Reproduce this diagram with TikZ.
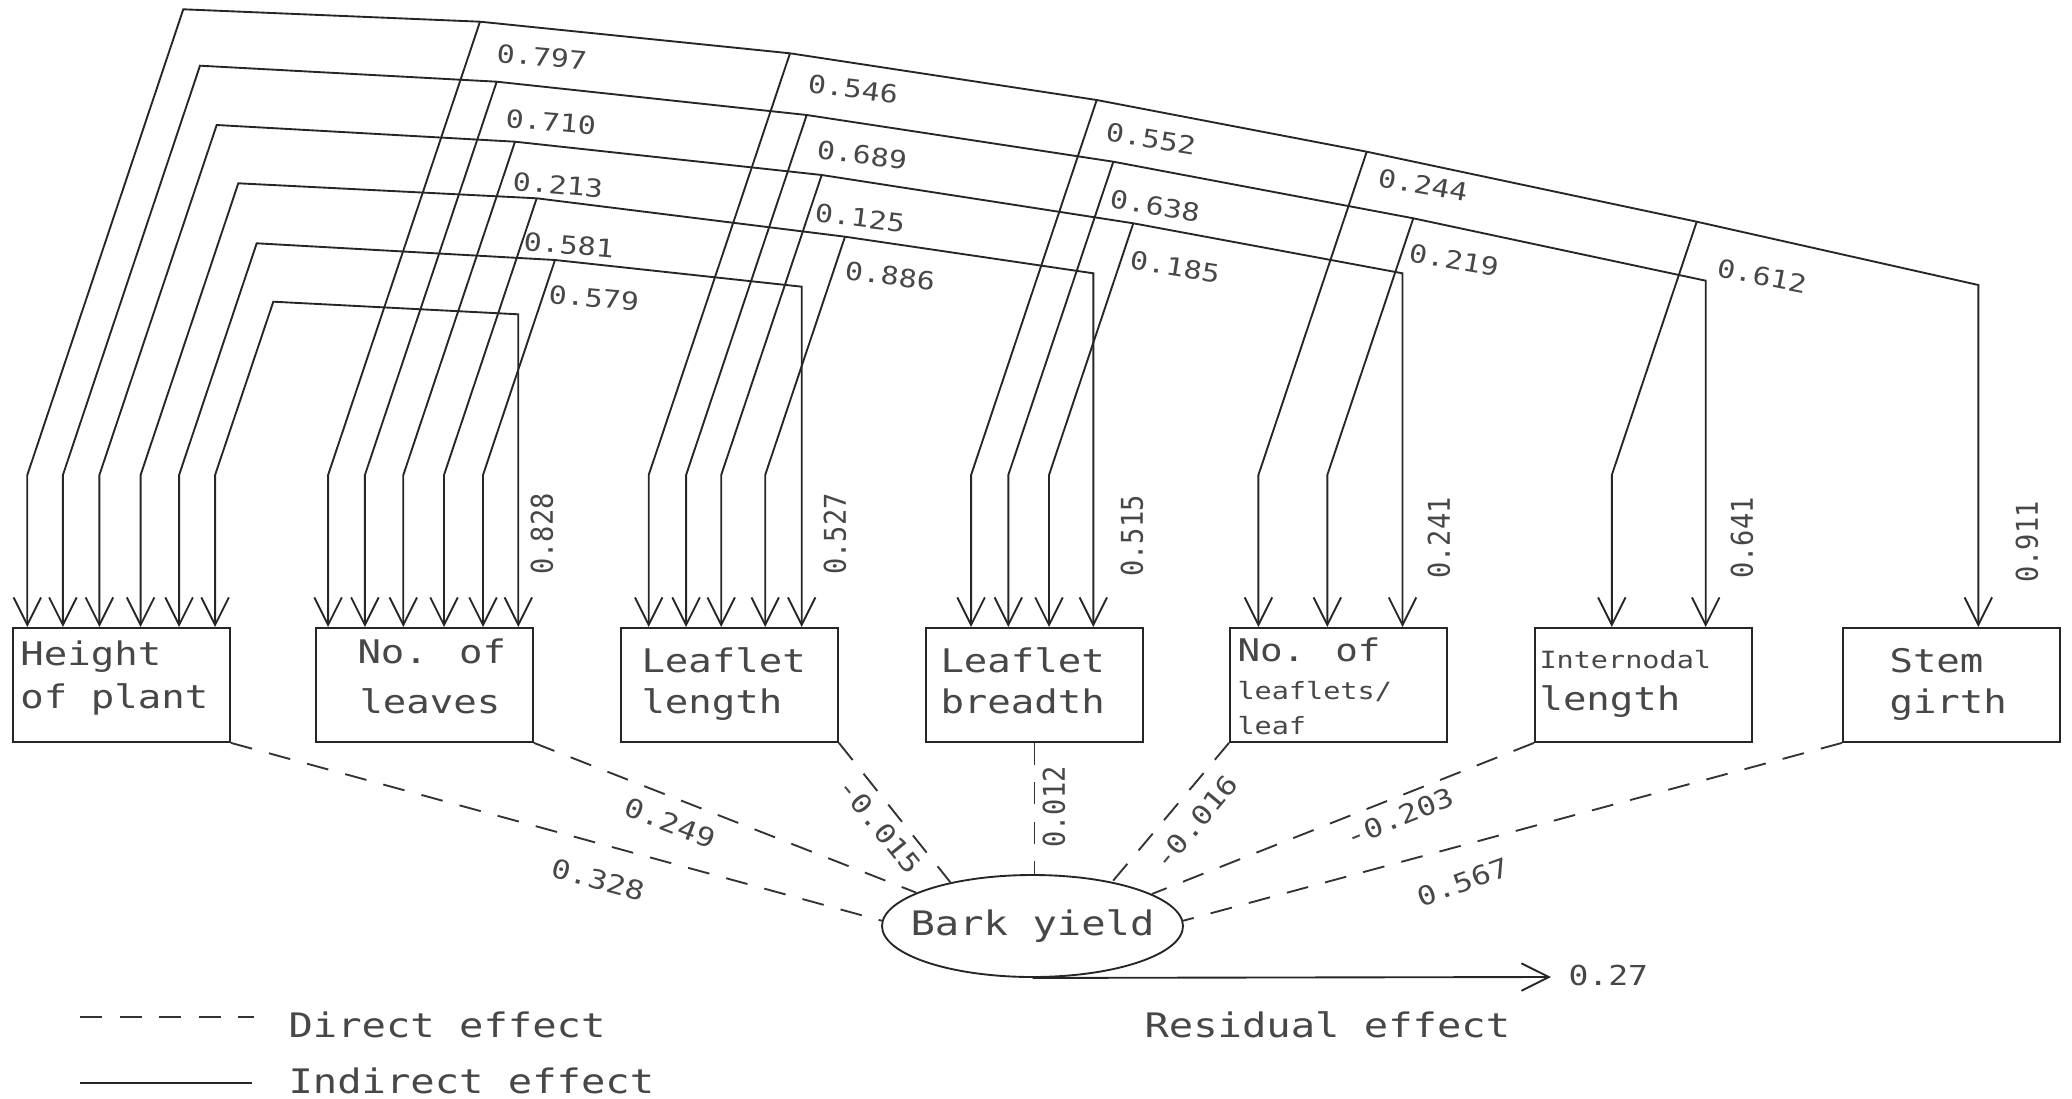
\documentclass[tikz,border=0pt]{standalone}
\usepackage{fontspec}
\newfontfamily\cad[FakeStretch=1.2]{DejaVu Sans Mono}
\newfontfamily\cadv[FakeStretch=0.9]{DejaVu Sans Mono}
\usetikzlibrary{arrows.meta,shapes.geometric,calc}
\tikzset{
 ln/.style={draw=black!85, line width=0.75pt},
 dl/.style={draw=black!80, line width=0.75pt, dash pattern=on 8.8pt off 7pt},
 tip/.style={-{Straight Barb[length=11pt,width=11pt]}},
 dtip/.style={{Straight Barb[length=11pt,width=11pt]}-{Straight Barb[length=11pt,width=11pt]}},
 box/.style={draw=black!85, line width=0.75pt, minimum width=86.8pt, minimum height=45.6pt, inner sep=0pt, anchor=north west},
 bt/.style={font=\cad\fontsize{13}{15}\selectfont, text=black!72, inner sep=0pt, anchor=base west},
 bts/.style={font=\cad\fontsize{9.5}{11}\selectfont, text=black!72, inner sep=0pt, anchor=base west},
 num/.style={font=\cad\fontsize{10}{12}\selectfont, text=black!72, inner sep=0pt},
 vnum/.style={font=\cadv\fontsize{12}{14}\selectfont, text=black!72, inner sep=0pt, rotate=90},
 dnum/.style={font=\cad\fontsize{10.5}{12}\selectfont, text=black!72, inner sep=0pt},
 big/.style={font=\cad\fontsize{13.5}{16}\selectfont, text=black!72, inner sep=0pt, anchor=base west},
}
\begin{document}
\begin{tikzpicture}[x=0.4pt,y=-0.4pt]
\useasboundingbox (0,0) rectangle (2072,1099);

% ---------- boxes ----------
\node[box] (b1) at (12,627) {};
\node[box] (b2) at (315,627) {};
\node[box] (b3) at (620,627) {};
\node[box] (b4) at (925,627) {};
\node[box] (b5) at (1229,627) {};
\node[box] (b6) at (1534,627) {};
\node[box] (b7) at (1842,627) {};

\node[bt] (t1a) at (20,665) {Height};
\node[bt] (t1b) at (20,708) {of plant};
\node[bt] (t2a) at (357,663) {No. of};
\node[bt] (t2b) at (359,713) {leaves};
\node[bt] (t3a) at (641,672) {Leaflet};
\node[bt] (t3b) at (641,713) {length};
\node[bt] (t4a) at (940,672) {Leaflet};
\node[bt] (t4b) at (940,713) {breadth};
\node[font=\cad\fontsize{12.5}{14}\selectfont, text=black!72, inner sep=0pt, anchor=base west] (t5a) at (1237,661) {No. of};
\node[bts] (t5b) at (1237,699) {leaflets/};
\node[bts] (t5c) at (1237,734) {leaf};
\node[bts] (t6a) at (1539,668) {Internodal};
\node[bt] (t6b) at (1539,710) {length};
\node[bt] (t7a) at (1889,672) {Stem};
\node[bt] (t7b) at (1889,713) {girth};

% ---------- Bark yield ----------
\node[ellipse, draw=black!85, line width=0.75pt, minimum width=120.4pt, minimum height=40.8pt, inner sep=0pt] (by) at (1032.5,926) {};
\node[font=\cad\fontsize{13.5}{16}\selectfont, text=black!72, inner sep=0pt] (byt) at (by.center) {Bark yield};

% ---------- arrow tips on box tops ----------
\coordinate (kk) at (0,475);
\coordinate (p17) at (27.3,0 |- b1.north);
\coordinate (p16) at (62.9,0 |- b1.north);
\coordinate (p15) at (99.4,0 |- b1.north);
\coordinate (p14) at (140.6,0 |- b1.north);
\coordinate (p13) at (179.1,0 |- b1.north);
\coordinate (p12) at (215.1,0 |- b1.north);
\coordinate (p27) at (328.1,0 |- b2.north);
\coordinate (p26) at (364.9,0 |- b2.north);
\coordinate (p25) at (403.3,0 |- b2.north);
\coordinate (p24) at (444,0 |- b2.north);
\coordinate (p23) at (483,0 |- b2.north);
\coordinate (p22) at (518.3,0 |- b2.north);
\coordinate (p37) at (648.7,0 |- b3.north);
\coordinate (p36) at (686.1,0 |- b3.north);
\coordinate (p35) at (721.2,0 |- b3.north);
\coordinate (p34) at (765.2,0 |- b3.north);
\coordinate (p33) at (801.7,0 |- b3.north);
\coordinate (p47) at (971.1,0 |- b4.north);
\coordinate (p46) at (1008.3,0 |- b4.north);
\coordinate (p45) at (1049,0 |- b4.north);
\coordinate (p44) at (1093.3,0 |- b4.north);
\coordinate (p57) at (1258.4,0 |- b5.north);
\coordinate (p56) at (1327.3,0 |- b5.north);
\coordinate (p55) at (1402.5,0 |- b5.north);
\coordinate (p67) at (1611.8,0 |- b6.north);
\coordinate (p66) at (1705.7,0 |- b6.north);
\coordinate (p77) at (1978.3,0 |- b7.north);

% ---------- bus points ----------
\coordinate (c7) at (183.3,9.3);
\coordinate (br72) at (480,21.7);
\coordinate (br73) at (790,53.3);
\coordinate (br74) at (1096.7,100);
\coordinate (br75) at (1366.7,151.7);
\coordinate (br76) at (1696.7,221.7);
\coordinate (e7) at (1978.3,285);

\coordinate (c6) at (200,65.7);
\coordinate (br62) at (496.7,81.7);
\coordinate (br63) at (806.7,115);
\coordinate (br64) at (1113.3,161.7);
\coordinate (br65) at (1413.3,218.3);
\coordinate (e6) at (1705.7,280.7);

\coordinate (c5) at (216.7,125);
\coordinate (br52) at (515,141.7);
\coordinate (br53) at (821.7,175);
\coordinate (br54) at (1133.3,223.3);
\coordinate (e5) at (1402.5,273.3);

\coordinate (c4) at (238.3,183.3);
\coordinate (br42) at (536.7,198.3);
\coordinate (br43) at (845,236.7);
\coordinate (e4) at (1093.3,273.3);

\coordinate (c3) at (256.7,243.3);
\coordinate (br32) at (555,260);
\coordinate (e3) at (801.7,286.7);

\coordinate (c2) at (273.3,301.7);
\coordinate (e2) at (518.3,314.3);

% ---------- buses (double headed) ----------
\draw[ln,dtip] (p17) -- (p17 |- kk) -- (c7) -- (br72) -- (br73) -- (br74) -- (br75) -- (br76) -- (e7) -- (p77);
\draw[ln,dtip] (p16) -- (p16 |- kk) -- (c6) -- (br62) -- (br63) -- (br64) -- (br65) -- (e6) -- (p66);
\draw[ln,dtip] (p15) -- (p15 |- kk) -- (c5) -- (br52) -- (br53) -- (br54) -- (e5) -- (p55);
\draw[ln,dtip] (p14) -- (p14 |- kk) -- (c4) -- (br42) -- (br43) -- (e4) -- (p44);
\draw[ln,dtip] (p13) -- (p13 |- kk) -- (c3) -- (br32) -- (e3) -- (p33);
\draw[ln,dtip] (p12) -- (p12 |- kk) -- (c2) -- (e2) -- (p22);

% ---------- branches ----------
\draw[ln,tip] (br72) -- (p27 |- kk) -- (p27);
\draw[ln,tip] (br62) -- (p26 |- kk) -- (p26);
\draw[ln,tip] (br52) -- (p25 |- kk) -- (p25);
\draw[ln,tip] (br42) -- (p24 |- kk) -- (p24);
\draw[ln,tip] (br32) -- (p23 |- kk) -- (p23);
\draw[ln,tip] (br73) -- (p37 |- kk) -- (p37);
\draw[ln,tip] (br63) -- (p36 |- kk) -- (p36);
\draw[ln,tip] (br53) -- (p35 |- kk) -- (p35);
\draw[ln,tip] (br43) -- (p34 |- kk) -- (p34);
\draw[ln,tip] (br74) -- (p47 |- kk) -- (p47);
\draw[ln,tip] (br64) -- (p46 |- kk) -- (p46);
\draw[ln,tip] (br54) -- (p45 |- kk) -- (p45);
\draw[ln,tip] (br75) -- (p57 |- kk) -- (p57);
\draw[ln,tip] (br65) -- (p56 |- kk) -- (p56);
\draw[ln,tip] (br76) -- (p67 |- kk) -- (p67);

% ---------- correlation labels ----------
\node[num, rotate=-5] (n72) at (542,57) {0.797};
\node[num, rotate=-5] (n62) at (551,122) {0.710};
\node[num, rotate=-5] (n52) at (558,185) {0.213};
\node[num, rotate=-5] (n42) at (569,245) {0.581};
\node[num, rotate=-5] (n32) at (594,298) {0.579};
\node[num, rotate=-7] (n73) at (853,89) {0.546};
\node[num, rotate=-7] (n63) at (862,155) {0.689};
\node[num, rotate=-7] (n53) at (860,218) {0.125};
\node[num, rotate=-7] (n43) at (890,276) {0.886};
\node[num, rotate=-9] (n74) at (1151,139) {0.552};
\node[num, rotate=-9] (n64) at (1155,206) {0.638};
\node[num, rotate=-9] (n54) at (1175,267) {0.185};
\node[num, rotate=-10] (n75) at (1423,185) {0.244};
\node[num, rotate=-10] (n65) at (1454,260) {0.219};
\node[num, rotate=-11] (n76) at (1762,276) {0.612};

\node[vnum] (v2) at (542,534) {0.828};
\node[vnum] (v3) at (835,534) {0.527};
\node[vnum] (v4) at (1132,536) {0.515};
\node[vnum] (v5) at (1439,538) {0.241};
\node[vnum] (v6) at (1742,538) {0.641};
\node[vnum] (v7) at (2027,542) {0.911};

% ---------- direct effects ----------
\draw[dl] (b1.south east) -- (by.178);
\draw[dl] (b2.south east) -- (by.164.5);
\draw[dl] (b3.south east) -- (by.152);
\draw[dl] (b4.south) -- (b4.south |- by.north);
\draw[dl] (b5.south west) -- (by.29);
\draw[dl] (b6.south west) -- (by.15.4);
\draw[dl] (b7.south west) -- (by.2);

\node[dnum, rotate=-15] (d1) at (598,880) {0.328};
\node[dnum, rotate=-21] (d2) at (670,823) {0.249};
\node[dnum, rotate=-51] (d3) at (880,826) {-0.015};
\node[vnum] (d4) at (1054,807) {0.012};
\node[dnum, rotate=50] (d5) at (1196,822) {-0.016};
\node[dnum, rotate=22] (d6) at (1400,817) {-0.203};
\node[dnum, rotate=20] (d7) at (1463,882) {0.567};

% ---------- residual ----------
\coordinate (res) at (1551,977);
\draw[ln,tip] (by.south) -- (res);
\node[font=\cad\fontsize{11}{13}\selectfont, text=black!72, inner sep=0pt, anchor=base west] (r27) at (1568,985) {0.27};
\node[big] (rtxt) at (1144,1037) {Residual effect};

% ---------- legend ----------
\coordinate (lgd1) at (80,1017);
\coordinate (lgd2) at (254,1017);
\draw[dl] (lgd1) -- (lgd2);
\node[big] (lgt1) at (288,1037) {Direct effect};
\coordinate (lgs1) at (80,1083);
\coordinate (lgs2) at (252,1083);
\draw[ln] (lgs1) -- (lgs2);
\node[big] (lgt2) at (288,1093) {Indirect effect};
\end{tikzpicture}
\end{document}
